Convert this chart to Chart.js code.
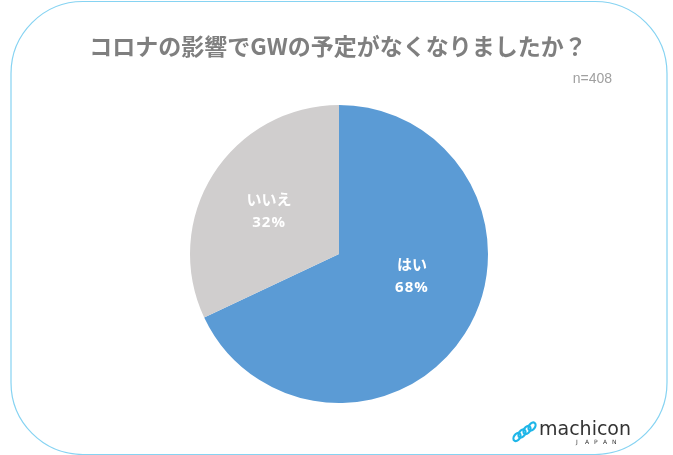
<!DOCTYPE html>
<html>
<head>
<meta charset="utf-8">
<script src="https://cdn.jsdelivr.net/npm/chart.js@4/dist/chart.umd.min.js"></script>
<style>
  html,body{margin:0;padding:0;background:#fff}
  #wrap{width:673px;height:455px;position:relative}
</style>
</head>
<body>
<div id="wrap"><canvas id="chart" width="673" height="455"></canvas></div>
<script>
const categories = ["はい", "いいえ"];
const values = [68, 32];
const colors = ["#5b9bd5", "#d0cece"];
const titleText = "コロナの影響でGWの予定がなくなりましたか？";
const sampleText = "n=408";

// frame, title, labels and logo drawn on top
const decor = {
  id: "decor",
  beforeDraw(chart){
    const c = chart.ctx;
    c.save();
    c.strokeStyle = "#86d3f2";
    c.lineWidth = 1.2;
    c.beginPath();
    c.roundRect(11, 1.5, 656, 453, 72);
    c.stroke();

    c.fillStyle = "#7f7f7f";
    c.font = "bold 23px 'Noto Sans CJK JP', sans-serif";
    c.textAlign = "center";
    c.textBaseline = "middle";
    c.fillText(titleText, 338, 46);

    c.fillStyle = "#a0a0a0";
    c.font = "14px 'Liberation Sans', sans-serif";
    c.textAlign = "right";
    c.fillText(sampleText, 612, 79);
    c.restore();
  },
  afterDraw(chart){
    const c = chart.ctx;
    const meta = chart.getDatasetMeta(0);
    const nudges = [[10, -18], [-7, -3]];
    c.save();
    c.fillStyle = "#ffffff";
    c.textAlign = "center";
    c.textBaseline = "middle";
    meta.data.forEach((arc, i) => {
      const p = arc.getProps(["x","y","startAngle","endAngle","outerRadius"], true);
      const mid = (p.startAngle + p.endAngle) / 2;
      const r = p.outerRadius * 0.5;
      const x = p.x + Math.cos(mid) * r + nudges[i][0];
      const y = p.y + Math.sin(mid) * r + nudges[i][1];
      c.font = "bold 15px 'Noto Sans CJK JP', sans-serif";
      c.fillText(categories[i], x, y - 12);
      c.font = "bold 15px 'Open Sans', sans-serif";
      c.letterSpacing = "1px";
      c.fillText(values[i] + "%", x, y + 12);
      c.letterSpacing = "0px";
    });

    // logo
    c.strokeStyle = "#1fb6e8";
    c.lineWidth = 2.2;
    for(let k = 0; k < 4; k++){
      c.beginPath();
      c.ellipse(517 + k*5, 437 - k*3.5, 3, 4.5, 0.6, 0, Math.PI*2);
      c.stroke();
    }
    c.fillStyle = "#333";
    c.textAlign = "left";
    c.font = "19px 'DejaVu Sans', sans-serif";
    c.fillText("machicon", 539, 430);
    c.font = "6px 'DejaVu Sans', sans-serif";
    const letters = "JAPAN".split("");
    letters.forEach((ch, k) => c.fillText(ch, 576 + k*9, 442));
    c.restore();
  }
};

new Chart(document.getElementById("chart"), {
  type: "pie",
  data: {
    labels: categories,
    datasets: [{
      data: values,
      backgroundColor: colors,
      borderWidth: 0
    }]
  },
  options: {
    responsive: false,
    animation: false,
    layout: { padding: { left: 190, right: 185, top: 105, bottom: 52 } },
    plugins: {
      legend: { display: false },
      tooltip: { enabled: false },
      title: { display: false }
    }
  },
  plugins: [decor]
});
</script>
</body>
</html>
